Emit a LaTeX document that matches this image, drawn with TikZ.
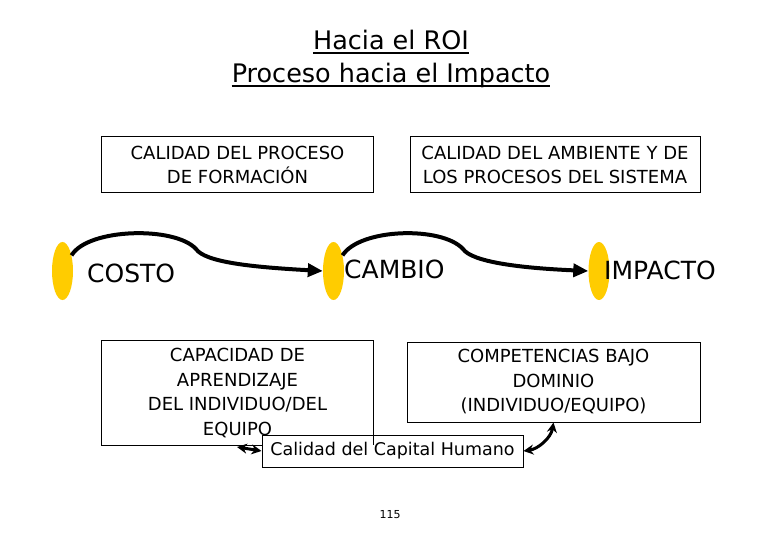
\documentclass[tikz,border=0pt]{standalone}
\usepackage{fontspec}
\setmainfont{DejaVu Sans}
\usetikzlibrary{arrows.meta}
\definecolor{gold}{RGB}{255,204,0}
\tikzset{
  titletext/.style={anchor=base,inner sep=0pt,font=\fontsize{25.5bp}{30bp}\selectfont},
  boxtext/.style={align=center,font=\fontsize{18bp}{24.5bp}\selectfont},
  framed/.style={draw,line width=1bp,inner sep=0pt},
  bigword/.style={anchor=west,inner sep=0pt,font=\fontsize{25bp}{30bp}\selectfont},
  pill/.style={ellipse,fill=gold,draw=none,minimum width=21bp,minimum height=58bp,inner sep=0pt},
  flow/.style={line width=4bp,-{Triangle[length=15bp,width=13bp]}},
  link/.style={line width=3bp,{Stealth[length=10bp,width=10bp]}-{Stealth[length=10bp,width=10bp]}}
}
\usetikzlibrary{shapes.geometric}
\begin{document}
\begin{tikzpicture}[x=1bp,y=-1bp]
\useasboundingbox[fill=white] (0,0) rectangle (780,540);
% title
\node[titletext] (t1) at (391,50) {Hacia el ROI};
\node[titletext] (t2) at (391,83) {Proceso hacia el Impacto};
\draw[line width=1.8bp] ([yshift=-3bp]t1.base west) -- ([yshift=-3bp]t1.base east);
\draw[line width=1.8bp] ([yshift=-3bp]t2.base west) -- ([yshift=-3bp]t2.base east);
% top boxes
\node[framed,boxtext,minimum width=271bp,minimum height=56bp] (b1) at (237.5,165) {CALIDAD DEL PROCESO\\DE FORMACIÓN};
\node[framed,boxtext,minimum width=290bp,minimum height=56bp] (b2) at (555,165) {CALIDAD DEL AMBIENTE Y DE\\LOS PROCESOS DEL SISTEMA};
% ellipses and words
\node[pill] (e1) at (62.5,271) {};
\node[pill] (e2) at (333.5,271) {};
\node[pill] (e3) at (599,271) {};
\node[bigword] (w1) at (87,273) {COSTO};
\node[bigword] (w2) at (344,269) {CAMBIO};
\node[bigword] (w3) at (604,270) {IMPACTO};
% flow arrows
\draw[flow] (e1.60) .. controls (88,228) and (175,226) .. (196,249)
  .. controls (205,262) and (250,267) .. (e2.west);
\draw[flow] (e2.60) .. controls (360,228) and (442,226) .. (463,249)
  .. controls (472,262) and (520,268) .. (e3.west);
% lower boxes
\node[boxtext,inner sep=0pt,minimum width=271bp,minimum height=104bp] (b3) at (237.5,393) {CAPACIDAD DE\\APRENDIZAJE\\DEL INDIVIDUO/DEL\\EQUIPO};
\node[framed,boxtext,minimum width=293bp,minimum height=80bp] (b4) at (553.5,382) {COMPETENCIAS BAJO\\DOMINIO\\(INDIVIDUO/EQUIPO)};
\node[framed,minimum width=261bp,minimum height=32bp,font=\fontsize{17.5bp}{21bp}\selectfont] (b5) at (392.5,451) {\raisebox{-2bp}{Calidad del Capital Humano}};
\draw[line width=1bp] (b5.west |- b3.south) -- (b3.south west) |- (b3.north east) -- (b3.south east);
% links
\coordinate (la) at (237,447);
\draw[link] (la) -- (b5.west);
\draw[link] (b5.east) .. controls (538,449) and (551,438) .. (b4.south);
% page number
\node[font=\fontsize{11bp}{13bp}\selectfont] (pg) at (390,515) {115};
\end{tikzpicture}
\end{document}
